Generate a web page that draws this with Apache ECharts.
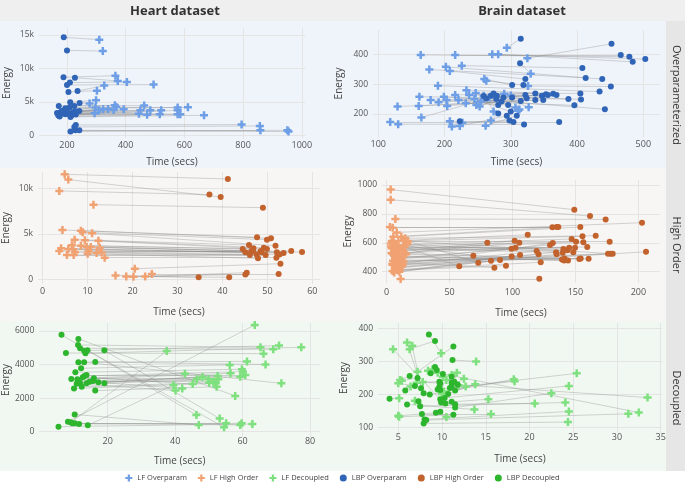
<!DOCTYPE html>
<html><head><meta charset="utf-8">
<script src="https://cdn.jsdelivr.net/npm/echarts@6/dist/echarts.min.js"></script>
<style>html,body{margin:0;padding:0;background:#fff}#c{width:685px;height:486px}</style>
</head><body><div id="c"></div>
<script>
// ---------- DATA (pairs matched by index: LF point i <-> LBP point i) ----------
// Heart / Overparameterized
var heartOpLfTime   = [310,322,365,373,404,495,327,302,299,277,363,463,577,612,297,368,323,340,450,484,521,577,393,294,445,473,516,577,586,667,310,359,795,857,859,951,955];
var heartOpLfEnergy = [14300,12600,8920,8130,7980,7580,7430,6680,5230,4740,4490,4440,4140,4190,4140,4240,3890,3940,3740,3740,3740,3740,3890,3290,3240,3090,3140,3140,3140,2990,3740,3790,1600,1400,750,750,550];
var heartOpLbpTime  = [189,200,188,227,210,200,236,205,211,243,172,225,194,208,182,242,200,220,178,166,194,173,214,185,205,170,230,190,175,212,198,228,230,225,228,212,242];
var heartOpLbpEnergy= [14650,12700,8670,8620,7880,7530,6630,6480,4940,4840,4390,4390,4040,4140,3640,3640,3440,3440,3440,3340,3140,2940,2940,3300,3200,3000,3100,3550,2800,2750,3800,3600,1550,1250,750,550,750];
// Brain / Overparameterized
var brainOpLfTime   = [294,164,216,272,281,325,177,226,202,208,330,260,263,190,326,233,247,259,162,179,199,216,237,191,203,204,129,161,221,248,253,274,311,313,327,165,118,130,208,227,211,223,262,270,255,245,232,268,290,300,307];
var brainOpLfEnergy = [422,398,398,400,400,387,349,362,358,344,335,317,311,295,294,280,270,261,258,247,258,264,264,239,247,227,225,227,247,230,225,208,211,215,223,188,173,166,176,171,158,160,161,178,242,250,236,256,268,262,222];
var brainOpLbpTime  = [315,479,466,503,484,452,413,408,438,322,314,302,319,434,451,364,405,406,387,396,442,337,347,353,356,369,349,337,315,286,278,263,270,259,274,279,373,320,304,298,223,294,309,281,300,281,296,289,302,322,324];
var brainOpLbpEnergy= [452,392,398,384,375,435,321,354,317,317,370,297,297,275,292,268,269,249,250,229,216,269,261,266,264,264,247,247,244,242,250,252,261,260,269,261,173,165,173,178,176,194,194,202,208,230,230,255,255,264,253];
// Heart / High Order
var heartHoLfTime   = [4.9,5.7,3.7,11.3,4.4,8.5,8.9,11.0,7.1,9.4,12.4,6.5,8.5,10.7,12.7,9.8,4.1,3.7,5.7,6.8,7.2,10.2,12.0,13.1,5.4,6.9,10.0,13.8,20.5,16.2,18.6,20.2,22.8,24.3];
var heartHoLfEnergy = [11530,10950,9710,8210,5440,5360,5180,5070,4380,4310,4270,3760,3720,3580,3500,3580,3430,3140,3360,3320,2990,3140,2920,2990,2700,2700,2850,2410,1200,470,360,330,360,620];
var heartHoLbpTime  = [41.2,39.6,37.1,49.0,47.7,50.8,49.9,51.8,45.9,46.9,49.2,44.5,49.9,46.4,46.8,48.5,45.1,48.7,52.1,53.6,55.3,57.7,46.1,47.6,49.6,52.7,47.9,52.0,52.9,34.7,41.5,45.1,45.4,52.5];
var heartHoLbpEnergy= [11020,9050,9310,7880,4640,4530,4380,3720,3800,3430,3500,3360,3360,3140,3140,3140,2990,2990,2990,2920,3140,3030,2700,2770,2700,2770,2340,2410,1750,260,260,580,770,620];
// Brain / High Order
var brainHoLfTime   = [3.2,3.2,6.9,2.6,4.8,8.0,5.3,11.7,14.8,4.2,9.3,15.9,6.6,13.2,4.0,8.5,13.2,4.8,10.1,14.8,6.6,11.9,4.8,9.3,6.4,11.9,4.8,10.1,8.0,3.2,11.1,3.5,5.8,7.5,9.9,12.5,16.5,3.8,7.0,9.0,12.8,15.5,5.1,8.8,13.5,16.8,4.5,7.8,10.5,13.0,6.0,8.5,11.0,14.2,5.5];
var brainHoLfEnergy = [968,898,765,709,705,672,642,642,631,612,612,608,585,580,562,557,543,520,525,529,492,488,446,442,423,435,405,400,465,596,349,575,555,545,566,560,590,530,510,500,505,520,475,480,470,612,455,430,415,450,395,410,460,620,600];
var brainHoLbpTime  = [149.1,161.6,174.0,135.1,131.7,202.9,136.4,153.9,166.1,112.1,155.6,177.2,147.0,150.5,156.3,159.4,80.0,101.7,105.4,102.4,99.2,129.8,132.0,119.2,120.7,134.6,135.1,106.0,99.3,68.9,121.3,140.4,143.6,145.0,149.7,139.9,148.3,141.4,141.0,144.1,139.3,153.1,154.2,160.5,175.9,178.0,179.6,206.1,122.4,82.9,90.1,94.8,85.6,72.8,57.7];
var brainHoLbpEnergy= [829,785,762,709,707,739,709,709,649,656,645,608,626,608,603,571,601,615,601,566,559,585,598,543,520,534,520,515,506,511,351,557,548,566,566,532,534,492,478,478,485,488,492,490,525,525,525,538,465,476,481,442,428,462,437];
// Heart / Decoupled
var heartDecLfTime   = [46.3,57.8,66.2,65.3,69.1,70.8,77.4,54.5,53.2,61.3,71.5,66.8,56.2,59.8,42.9,56.4,60.1,60.8,59.3,46.4,48.1,49.9,51.3,52.6,52.8,50.1,52.0,52.3,47.0,63.6,37.5,55.1,59.3,59.7,62.9,39.5,45.2,42.1,40.1];
var heartDecLfEnergy = [990,2130,4650,5030,4910,5130,5030,260,780,4190,2880,4000,3980,3720,3460,3480,3580,3380,3280,3120,3260,3120,2980,3320,3120,2920,2880,2680,400,6360,4810,500,400,500,460,2780,2840,2580,2450];
var heartDecLbpTime  = [6.3,11.3,7.6,11.2,11.8,13.0,13.4,14.0,19.0,11.3,13.0,16.3,12.1,10.4,9.2,11.0,13.1,13.7,11.2,11.8,13.7,15.9,15.6,17.2,19.0,12.3,10.0,16.3,10.2,8.2,9.0,9.5,10.2,11.5,5.4,14.1,12.6,14.6,10.8];
var heartDecLbpEnergy= [5770,5530,4690,5170,4970,4830,4670,4850,4850,4140,4140,4160,3780,3540,3140,3120,3320,3380,3020,2920,2880,3180,3020,2940,2880,2680,2580,2450,1030,600,560,500,500,460,300,380,3250,2980,2850];
// Brain / Decoupled
var brainDecLfTime   = [4.4,6.0,6.6,6.3,9.9,13.9,7.2,8.4,8.9,9.5,5.2,5.4,5.0,6.4,7.1,7.8,10.1,10.5,11.1,11.7,12.5,12.7,13.8,11.9,10.0,10.2,5.1,6.9,15.3,20.6,22.5,24.1,24.5,25.4,18.2,18.3,15.6,13.7,10.5,5.0,5.1,24.5,31.3,32.5,33.5,24.4];
var brainDecLfEnergy = [337,357,347,337,325,300,269,272,276,266,244,242,234,224,236,238,254,244,259,266,248,224,231,228,202,209,189,181,186,173,204,176,226,264,246,240,141,155,132,136,133,149,142,146,191,117];
var brainDecLbpTime  = [9.8,7.9,7.6,9.2,8.5,11.2,11.3,9.2,8.7,9.4,6.3,7.2,6.9,5.8,9.7,9.8,9.7,9.8,11.1,11.4,11.1,11.5,10.7,11.1,10.4,9.9,4.0,7.3,11.1,11.5,11.5,7.5,10.3,10.9,8.6,9.5,7.7,6.0,9.8,9.3,11.3,8.0,8.2,10.1,11.8,7.9];
var brainDecLbpEnergy= [186,204,219,362,381,304,345,283,264,274,256,250,226,212,239,234,224,214,236,239,224,212,202,254,173,176,187,180,178,171,161,165,190,220,200,215,141,170,148,145,139,125,123,262,230,113];

// tick labels
var heartOpXTicks = [200,400,600,800,1000];
var heartOpYTicks = [0,5000,10000,15000];
var brainOpXTicks = [100,200,300,400,500];
var brainOpYTicks = [200,300,400];
var heartHoXTicks = [0,10,20,30,40,50,60];
var heartHoYTicks = [0,5000,10000];
var brainHoXTicks = [0,50,100,150,200];
var brainHoYTicks = [400,600,800,1000];
var heartDecXTicks = [20,40,60,80];
var heartDecYTicks = [0,2000,4000,6000];
var brainDecXTicks = [5,10,15,20,25,30,35];
var brainDecYTicks = [100,200,300,400];

var columnTitles = ['Heart dataset','Brain dataset'];
var rowTitles = ['Overparameterized','High Order','Decoupled'];
var legendNames = ['LF Overparam','LF High Order','LF Decoupled','LBP Overparam','LBP High Order','LBP Decoupled'];

// ---------- STYLE ----------
var FONT = 'Open Sans';
var PLUS = 'path://M-1,-3.2L1,-3.2L1,-1L3.2,-1L3.2,1L1,1L1,3.2L-1,3.2L-1,1L-3.2,1L-3.2,-1L-1,-1Z';
var COL = {
  'LF Overparam':'#6e9fe6','LBP Overparam':'#2f64b7',
  'LF High Order':'#f1a273','LBP High Order':'#c2622d',
  'LF Decoupled':'#7ee07e','LBP Decoupled':'#2db52d'
};

function makeK(){ return function(v){ return v===0 ? '0' : (v/1000)+'k'; }; }
function makePlain(){ return function(v){ return String(v); }; }
function makeRich(){ return function(v){ return '{n|' + String(v) + '}'; }; }

var panels = [
  {lt:heartOpLfTime, le:heartOpLfEnergy, bt:heartOpLbpTime, be:heartOpLbpEnergy, lf:'LF Overparam', lbp:'LBP Overparam',
   g:{left:39,top:28,width:266,height:110}, x:[104.6,1011], y:[-404,16047], xt:heartOpXTicks, yt:heartOpYTicks, yk:true, xRich:true, xg:3, ng:19},
  {lt:brainOpLfTime, le:brainOpLfEnergy, bt:brainOpLbpTime, be:brainOpLbpEnergy, lf:'LF Overparam', lbp:'LBP Overparam',
   g:{left:373,top:30,width:287,height:107}, x:[92,525.2], y:[123,481.4], xt:brainOpXTicks, yt:brainOpYTicks, xg:3, ng:20},
  {lt:heartHoLfTime, le:heartHoLfEnergy, bt:heartHoLbpTime, be:heartHoLbpEnergy, lf:'LF High Order', lbp:'LBP High Order',
   g:{left:36,top:172,width:284,height:112}, x:[-1.04,61.7], y:[-470,11783], xt:heartHoXTicks, yt:heartHoYTicks, yk:true, xg:3, ng:23},
  {lt:brainHoLfTime, le:brainHoLfEnergy, bt:brainHoLbpTime, be:brainHoLbpEnergy, lf:'LF High Order', lbp:'LBP High Order',
   g:{left:382,top:180,width:278,height:103}, x:[-3.7,217.2], y:[321.8,1034.6], xt:brainHoXTicks, yt:brainHoYTicks, xg:5, ng:25},
  {lt:heartDecLfTime, le:heartDecLfEnergy, bt:heartDecLbpTime, be:heartDecLbpEnergy, lf:'LF Decoupled', lbp:'LBP Decoupled',
   g:{left:38,top:323,width:282,height:114}, x:[-0.28,82.95], y:[-316,6477], xt:heartDecXTicks, yt:heartDecYTicks, xg:0, ng:19},
  {lt:brainDecLfTime, le:brainDecLfEnergy, bt:brainDecLbpTime, be:brainDecLbpEnergy, lf:'LF Decoupled', lbp:'LBP Decoupled',
   g:{left:378,top:323,width:284,height:110}, x:[2.68,35.15], y:[84,416], xt:brainDecXTicks, yt:brainDecYTicks, xg:0, ng:21}
];

var grids=[], xAxes=[], yAxes=[], series=[];
panels.forEach(function(p,i){
  grids.push(Object.assign({show:false}, p.g));
  var xLabel = {customValues:p.xt, fontFamily:FONT, fontSize:9, color:'#555', margin:p.xg, showMinLabel:true, showMaxLabel:true};
  if(p.xRich){
    xLabel.formatter = makeRich();
    xLabel.rich = {n:{fontFamily:FONT, fontSize:9, color:'#555'}};
  } else {
    xLabel.formatter = makePlain();
  }
  xAxes.push({type:'value', gridIndex:i, min:p.x[0], max:p.x[1],
    name:'Time (secs)', nameLocation:'middle', nameGap:p.ng,
    nameTextStyle:{fontFamily:FONT,fontSize:10,color:'#444'},
    axisLine:{show:false}, axisTick:{show:false, customValues:p.xt},
    axisLabel:xLabel,
    splitLine:{show:true, lineStyle:{color:'#e4e4e4', width:1}}});
  yAxes.push({type:'value', gridIndex:i, min:p.y[0], max:p.y[1],
    name:'Energy', nameLocation:'middle', nameGap:(i%2===0?27:29),
    nameTextStyle:{fontFamily:FONT,fontSize:10,color:'#444'},
    axisLine:{show:false}, axisTick:{show:false, customValues:p.yt},
    axisLabel:{customValues:p.yt, fontFamily:FONT, fontSize:8.5, color:'#555', margin:5, formatter:(p.yk ? makeK() : makePlain()), showMinLabel:true, showMaxLabel:true},
    splitLine:{show:true, lineStyle:{color:'#e4e4e4', width:1}}});
  var segs = p.lt.map(function(t,j){ return {coords:[[t,p.le[j]],[p.bt[j],p.be[j]]]}; });
  series.push({type:'lines', coordinateSystem:'cartesian2d', xAxisIndex:i, yAxisIndex:i, silent:true, z:1,
    lineStyle:{color:'#8a8a8a', width:0.8, opacity:0.45}, data:segs});
  series.push({type:'scatter', name:p.lf, xAxisIndex:i, yAxisIndex:i, z:3, symbol:PLUS, symbolSize:8,
    itemStyle:{color:COL[p.lf], opacity:1}, data:p.lt.map(function(t,j){return [t,p.le[j]];})});
  series.push({type:'scatter', name:p.lbp, xAxisIndex:i, yAxisIndex:i, z:4, symbol:'circle', symbolSize:6,
    itemStyle:{color:COL[p.lbp], opacity:1}, data:p.bt.map(function(t,j){return [t,p.be[j]];})});
});

var graphics = [
  {type:'rect', shape:{x:0,y:0,width:685,height:21}, style:{fill:'#efefef'}, z:-10, silent:true},
  {type:'rect', shape:{x:0,y:21,width:666,height:147}, style:{fill:'#eff4fb'}, z:-10, silent:true},
  {type:'rect', shape:{x:0,y:168,width:666,height:153}, style:{fill:'#f8f6f4'}, z:-10, silent:true},
  {type:'rect', shape:{x:0,y:321,width:666,height:150}, style:{fill:'#f1f8f1'}, z:-10, silent:true},
  {type:'rect', shape:{x:666,y:21,width:19,height:450}, style:{fill:'#e6e6e6'}, z:-10, silent:true},
  {type:'text', x:175, y:11, style:{text:columnTitles[0], fontFamily:FONT, fontSize:13, fontWeight:'bold', fill:'#333', align:'center', verticalAlign:'middle'}},
  {type:'text', x:522, y:11, style:{text:columnTitles[1], fontFamily:FONT, fontSize:13, fontWeight:'bold', fill:'#333', align:'center', verticalAlign:'middle'}},
  {type:'text', x:676, y:95, rotation:-Math.PI/2, style:{text:rowTitles[0], fontFamily:FONT, fontSize:11, fill:'#333', align:'center', verticalAlign:'middle'}},
  {type:'text', x:676, y:245, rotation:-Math.PI/2, style:{text:rowTitles[1], fontFamily:FONT, fontSize:11, fill:'#333', align:'center', verticalAlign:'middle'}},
  {type:'text', x:676, y:398, rotation:-Math.PI/2, style:{text:rowTitles[2], fontFamily:FONT, fontSize:11, fill:'#333', align:'center', verticalAlign:'middle'}}
];

var chart = echarts.init(document.getElementById('c'), null, {renderer:'canvas'});
chart.setOption({
  animation:false,
  backgroundColor:'#ffffff',
  textStyle:{fontFamily:FONT},
  grid:grids, xAxis:xAxes, yAxis:yAxes, series:series,
  graphic:graphics,
  legend:{
    top:474, left:'center', itemWidth:7, itemHeight:7, itemGap:11, padding:0,
    textStyle:{fontFamily:FONT, fontSize:7.5, color:'#444'},
    data:legendNames.map(function(n){ return {name:n, icon:(n.indexOf('LF')===0?PLUS:'circle')}; })
  }
});
</script>
</body></html>
